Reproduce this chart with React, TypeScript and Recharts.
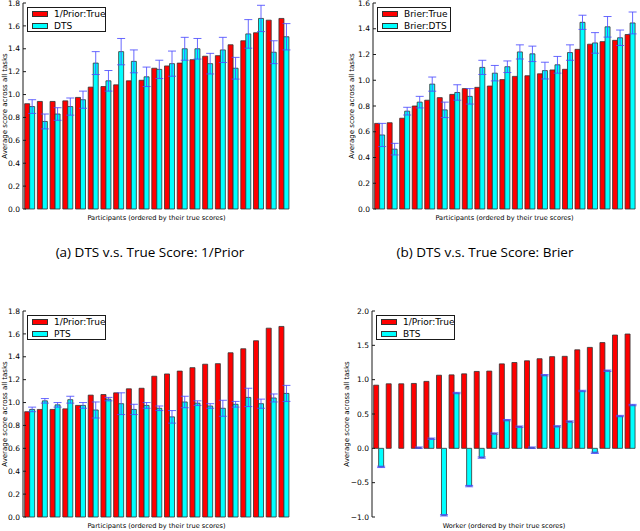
import { Bar, BarChart, ErrorBar, XAxis, YAxis } from 'recharts';

const RED = '#ff0000';
const CYAN = '#00ffff';
const EDGE = '#333333';
const ERR = '#4d4dff';
const FRAME = '#1a1a1a';

const participants = [
  'P1', 'P2', 'P3', 'P4', 'P5', 'P6', 'P7', 'P8', 'P9', 'P10', 'P11',
  'P12', 'P13', 'P14', 'P15', 'P16', 'P17', 'P18', 'P19', 'P20', 'P21',
];

// 1/Prior true scores (shared by panels a, c, d)
const priorTrue = [
  0.92, 0.94, 0.94, 0.945, 0.975, 1.065, 1.07, 1.085, 1.12, 1.125, 1.23,
  1.25, 1.275, 1.305, 1.335, 1.34, 1.435, 1.47, 1.54, 1.65, 1.665,
];

const dtsPrior = [
  0.895, 0.765, 0.83, 0.895, 0.955, 1.275, 1.12, 1.375, 1.29, 1.155, 1.22,
  1.27, 1.4, 1.4, 1.27, 1.39, 1.23, 1.53, 1.665, 1.37, 1.505,
];
const dtsPriorErr = [
  0.06, 0.065, 0.055, 0.075, 0.075, 0.1, 0.09, 0.115, 0.1, 0.085, 0.08,
  0.11, 0.1, 0.09, 0.09, 0.11, 0.095, 0.125, 0.115, 0.1, 0.115,
];

const brierTrue = [
  0.665, 0.67, 0.705, 0.8, 0.845, 0.865, 0.89, 0.935, 0.945, 0.955, 1.005,
  1.03, 1.035, 1.05, 1.08, 1.085, 1.24, 1.28, 1.3, 1.31, 1.355,
];
const dtsBrier = [
  0.575, 0.465, 0.76, 0.83, 0.97, 0.77, 0.905, 0.875, 1.1, 1.055, 1.105,
  1.22, 1.205, 1.075, 1.12, 1.215, 1.45, 1.29, 1.415, 1.33, 1.445,
];
const dtsBrierErr = [
  0.09, 0.045, 0.03, 0.045, 0.055, 0.06, 0.06, 0.06, 0.055, 0.06, 0.045,
  0.055, 0.06, 0.065, 0.065, 0.06, 0.055, 0.08, 0.08, 0.06, 0.085,
];

const pts = [
  0.94, 1.015, 0.98, 1.025, 0.975, 0.935, 1.03, 0.99, 0.94, 0.975, 0.95,
  0.875, 1.005, 0.995, 0.97, 0.95, 0.985, 1.045, 0.99, 1.04, 1.08,
];
const ptsErr = [
  0.02, 0.02, 0.02, 0.03, 0.025, 0.07, 0.015, 0.095, 0.045, 0.025, 0.02,
  0.055, 0.05, 0.02, 0.02, 0.07, 0.025, 0.08, 0.04, 0.035, 0.07,
];

const bts = [
  -0.27, 0.0, 0.0, 0.01, 0.14, -0.975, 0.805, -0.55, -0.135, 0.215, 0.41,
  0.315, 0.01, 1.065, 0.32, 0.39, 0.835, -0.065, 1.13, 0.47, 0.63,
];
const btsErr = [
  0.01, 0.0, 0.0, 0.01, 0.01, 0.01, 0.01, 0.01, 0.01, 0.01, 0.01,
  0.01, 0.01, 0.01, 0.01, 0.01, 0.01, 0.01, 0.01, 0.01, 0.01,
];

const ticks18 = [0, 0.2, 0.4, 0.6, 0.8, 1.0, 1.2, 1.4, 1.6, 1.8];
const ticks16 = [0, 0.2, 0.4, 0.6, 0.8, 1.0, 1.2, 1.4, 1.6];
const ticksBts = [-1.0, -0.5, 0, 0.5, 1.0, 1.5, 2.0];

function buildRows(truth: number[], model: number[], err: number[]) {
  return participants.map((name, i) => ({ name, truth: truth[i], model: model[i], err: err[i] }));
}

const fmt = (v: number) => (v < 0 ? '\u2212' + Math.abs(v).toFixed(1) : v.toFixed(1));

const mpl = 'DejaVu Sans, sans-serif';

interface PanelProps {
  left: number;
  top: number;
  plotW: number;
  plotH: number;
  rows: ReturnType<typeof buildRows>;
  domain: [number, number];
  ticks: number[];
  trueLabel: string;
  modelLabel: string;
  xLabel: string;
  legendW: number;
  labelX: number;
}

function Panel({ left, top, plotW, plotH, rows, domain, ticks, trueLabel, modelLabel, xLabel, legendW, labelX }: PanelProps) {
  const yw = 25;
  const pad = 6;
  return (
    <>
      <div style={{ position: 'absolute', left: left - yw, top: top - pad }}>
        <BarChart
          width={plotW + yw + pad}
          height={plotH + pad * 2}
          data={rows}
          margin={{ top: pad, right: pad, bottom: pad, left: 0 }}
          barCategoryGap="13%"
          barGap={0}
        >
          <XAxis dataKey="name" height={0} tick={false} interval={0} tickSize={-3}
            axisLine={{ stroke: FRAME }} tickLine={{ stroke: FRAME }} />
          <XAxis dataKey="name" xAxisId="top" orientation="top" height={0} tick={false} interval={0}
            tickSize={-3} axisLine={{ stroke: FRAME }} tickLine={{ stroke: FRAME }} />
          <YAxis width={yw} domain={domain} ticks={ticks} interval={0} tickFormatter={fmt}
            tickSize={-3} tickMargin={6} axisLine={{ stroke: FRAME }} tickLine={{ stroke: FRAME }}
            tick={{ fontSize: 7.5, fill: '#000', fontFamily: mpl }} />
          <YAxis yAxisId="right" orientation="right" width={0} domain={domain} ticks={ticks}
            allowDataOverflow interval={0} tick={false} tickSize={-3}
            axisLine={{ stroke: FRAME }} tickLine={{ stroke: FRAME }} />
          <Bar dataKey="truth" name={trueLabel} fill={RED} stroke={EDGE} strokeWidth={0.8} isAnimationActive={false} />
          <Bar dataKey="model" name={modelLabel} fill={CYAN} stroke={EDGE} strokeWidth={0.8} isAnimationActive={false}>
            <ErrorBar dataKey="err" width={4} stroke={ERR} strokeWidth={1} strokeOpacity={0.85} isAnimationActive={false} />
          </Bar>
        </BarChart>
      </div>
      <div style={{
        position: 'absolute', left: left + 4, top: top + 4, width: legendW, height: 25,
        border: `1px solid ${FRAME}`, background: '#fff', fontFamily: mpl, fontSize: 9, boxSizing: 'border-box',
      }}>
        {[{ c: RED, t: trueLabel }, { c: CYAN, t: modelLabel }].map((it, i) => (
          <div key={i} style={{ position: 'absolute', left: 0, top: i * 12, height: 12, width: '100%' }}>
            <div style={{
              position: 'absolute', left: 4, top: 3, width: 16, height: 6, background: it.c,
              border: `1px solid ${EDGE}`, boxSizing: 'border-box',
            }} />
            <div style={{ position: 'absolute', left: 26, top: 0, lineHeight: '12px', whiteSpace: 'nowrap' }}>{it.t}</div>
          </div>
        ))}
      </div>
      <div style={{
        position: 'absolute', left: labelX, top: top + plotH / 2, transform: 'translate(-50%, -50%) rotate(-90deg)',
        fontFamily: mpl, fontSize: 7, whiteSpace: 'nowrap',
      }}>Average score across all tasks</div>
      <div style={{
        position: 'absolute', left: left + plotW / 2, top: top + plotH + 9, transform: 'translate(-50%, -50%)',
        fontFamily: mpl, fontSize: 6.6, whiteSpace: 'nowrap',
      }}>{xLabel}</div>
    </>
  );
}

const caption = { position: 'absolute' as const, top: 252, transform: 'translate(-50%, -50%)', fontFamily: 'Open Sans, sans-serif', fontSize: 13.5, whiteSpace: 'nowrap' as const };

export default function App() {
  const participantsLabel = 'Participants (ordered by their true scores)';
  return (
    <div style={{ position: 'absolute', left: 0, top: 0, width: 640, height: 531, background: '#fff', overflow: 'hidden' }}>
      <Panel left={23} top={3} plotW={267} plotH={206} rows={buildRows(priorTrue, dtsPrior, dtsPriorErr)}
        domain={[0, 1.8]} ticks={ticks18} trueLabel="1/Prior:True" modelLabel="DTS" xLabel={participantsLabel}
        legendW={79} labelX={5} />
      <Panel left={373} top={3} plotW={263} plotH={206} rows={buildRows(brierTrue, dtsBrier, dtsBrierErr)}
        domain={[0, 1.6]} ticks={ticks16} trueLabel="Brier:True" modelLabel="Brier:DTS" xLabel={participantsLabel}
        legendW={74} labelX={352} />
      <Panel left={23} top={311} plotW={267} plotH={206} rows={buildRows(priorTrue, pts, ptsErr)}
        domain={[0, 1.8]} ticks={ticks18} trueLabel="1/Prior:True" modelLabel="PTS" xLabel={participantsLabel}
        legendW={79} labelX={5} />
      <Panel left={372} top={311} plotW={264} plotH={206} rows={buildRows(priorTrue, bts, btsErr)}
        domain={[-1, 2]} ticks={ticksBts} trueLabel="1/Prior:True" modelLabel="BTS"
        xLabel="Worker (ordered by their true scores)" legendW={79} labelX={347} />
      <div style={{ ...caption, left: 150 }}>(a) DTS v.s. True Score: 1/Prior</div>
      <div style={{ ...caption, left: 485 }}>(b) DTS v.s. True Score: Brier</div>
    </div>
  );
}
